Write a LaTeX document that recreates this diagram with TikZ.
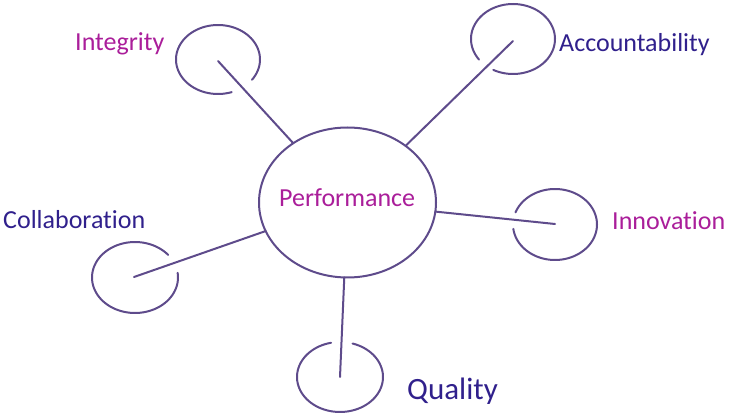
\documentclass[tikz,border=0pt]{standalone}
\usepackage{fontspec}
\setmainfont{Carlito}[Ligatures=NoCommon]
\usetikzlibrary{shapes.geometric}
\definecolor{linepurple}{HTML}{5E4B8B}
\definecolor{textmagenta}{HTML}{AA1E9A}
\definecolor{textindigo}{HTML}{30208C}
\tikzset{
  loopline/.style={draw=linepurple, line width=2pt, line cap=round},
  bigell/.style={ellipse, draw=linepurple, line width=2pt, minimum width=177pt, minimum height=150pt, inner sep=0pt, outer sep=0pt},
  lbl/.style={anchor=base west, inner sep=0pt, font=\fontsize{26}{30}\selectfont},
  magentalbl/.style={lbl, text=textmagenta},
  indigolbl/.style={lbl, text=textindigo}
}
\begin{document}
\begin{tikzpicture}[x=1pt,y=-1pt]
\useasboundingbox (0,0) rectangle (731,419);
% central ellipse
\node[bigell] (perf) at (347.5,202.5) {};
\node[magentalbl] (perftxt) at (279,207) {Performance};
% loop centres (connector start points)
\coordinate (cI) at (218,61);
\coordinate (cA) at (513,41);
\coordinate (cN) at (555,224);
\coordinate (cC) at (134,277);
\coordinate (cQ) at (340,377);
% open loops
\draw[loopline] plot[domain=71:396, samples=80, smooth] ({218+42*cos(\x)},{59.5+34.5*sin(\x)});
\draw[loopline] plot[domain=144:478, samples=80, smooth] ({513+42*cos(\x)},{39+35*sin(\x)});
\draw[loopline] plot[domain=200:533, samples=80, smooth] ({555+42*cos(\x)},{224.5+35.5*sin(\x)});
\draw[loopline] plot[domain=-7.6:320.4, samples=80, smooth] ({135+43*cos(\x)},{277.5+35.5*sin(\x)});
\draw[loopline] plot[domain=287:618, samples=80, smooth] ({340+43*cos(\x)},{377+35*sin(\x)});
% connectors
\draw[loopline] (cI) -- (perf);
\draw[loopline] (cA) -- (perf);
\draw[loopline] (cN) -- (perf);
\draw[loopline] (cC) -- (perf);
\draw[loopline] (cQ) -- (perf);
% labels
\node[magentalbl] (tI) at (75,51) {Integrity};
\node[indigolbl] (tA) at (559,52) {Accountability};
\node[magentalbl] (tN) at (612,230) {Innovation};
\node[indigolbl] (tC) at (3,229) {Collaboration};
\node[indigolbl, font=\fontsize{31}{36}\selectfont] (tQ) at (407,400) {Quality};
\end{tikzpicture}
\end{document}
